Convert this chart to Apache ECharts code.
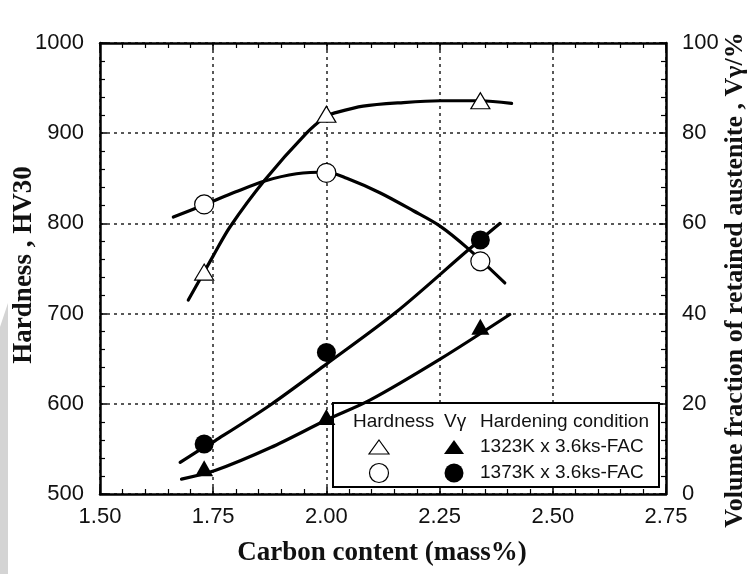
<!DOCTYPE html>
<html><head><meta charset="utf-8">
<script src="https://cdn.jsdelivr.net/npm/echarts@6/dist/echarts.min.js"></script>
<style>html,body{margin:0;padding:0;background:#fff}#c{width:753px;height:574px}</style>
</head><body><div id="c"></div>
<script>
// measured points
const carbon = [1.73, 2.00, 2.34];
const hv1323 = [746, 921, 936];
const hv1373 = [821, 856, 758];
const vg1323 = [5.7, 17.1, 37.1];
const vg1373 = [11.1, 31.4, 56.3];

// fitted curves
const fitHv1323X = [1.695, 1.75, 1.787, 1.864, 1.956, 2.00, 2.015, 2.081, 2.17, 2.251, 2.34, 2.409];
const fitHv1323Y = [715, 764, 796, 848, 900, 919, 922, 930, 934, 936, 936, 933];
const fitHv1373X = [1.662, 1.732, 1.80, 1.864, 1.934, 2.00, 2.045, 2.118, 2.192, 2.251, 2.313, 2.394];
const fitHv1373Y = [807, 821, 835, 847, 855, 857, 850, 834, 814, 797, 772, 734];
const fitVg1373X = [1.677, 1.73, 1.754, 1.877, 2.00, 2.155, 2.313, 2.383];
const fitVg1373Y = [7.0, 10.4, 11.8, 19.8, 28.8, 40.4, 54.1, 60.0];
const fitVg1323X = [1.680, 1.754, 1.877, 2.00, 2.096, 2.251, 2.405];
const fitVg1323Y = [3.3, 5.2, 10.3, 16.4, 20.8, 29.9, 39.8];

// tick labels
const xTickLabels = ['1.50', '1.75', '2.00', '2.25', '2.50', '2.75'];
const hvTickLabels = ['500', '600', '700', '800', '900', '1000'];
const vgTickLabels = ['0', '20', '40', '60', '80', '100'];

// legend texts
const legendHeaders = ['Hardness', 'V\u03b3', 'Hardening condition'];
const conditions = ['1323K x 3.6ks-FAC', '1373K x 3.6ks-FAC'];

const zip = (a, b) => a.map((v, i) => [v, b[i]]);

const axisLineStyle = { show: true, onZero: false, lineStyle: { color: '#000', width: 2.5 } };
const tick = { show: true, inside: true, length: 7, lineStyle: { color: '#000', width: 1.5 } };
const minor = { show: true, splitNumber: 5, length: 5, lineStyle: { color: '#000', width: 1.2 } };
const dashed = { show: true, lineStyle: { type: [3, 4], color: '#222', width: 1.5 } };
const labelFont = { fontSize: 22, color: '#111', fontFamily: '"Liberation Sans", Arial, sans-serif' };

const lineSeries = (xs, ys, yIdx) => ({
  type: 'line', xAxisIndex: 0, yAxisIndex: yIdx, data: zip(xs, ys),
  smooth: 0.3, showSymbol: false, silent: true, z: 3,
  lineStyle: { color: '#000', width: 3.2, cap: 'round', join: 'round' }
});
const pointSeries = (ys, yIdx, symbol, size, filled) => ({
  type: 'scatter', xAxisIndex: 0, yAxisIndex: yIdx, data: zip(carbon, ys),
  symbol: symbol, symbolSize: size, silent: true, z: 5,
  itemStyle: { color: filled ? '#000' : '#fff', borderColor: '#000', borderWidth: filled ? 0 : 1.2, opacity: 1 }
});

const chart = echarts.init(document.getElementById('c'), null, { renderer: 'canvas' });

const serif = '"Liberation Serif", "Times New Roman", serif';
const sans = '"Liberation Sans", Arial, sans-serif';
const legendFont = '19px ' + sans;

chart.setOption({
  animation: false,
  backgroundColor: '#fff',
  grid: { left: 100, right: 87, top: 43, bottom: 80, containLabel: false },
  xAxis: [
    { type: 'value', position: 'bottom', min: 1.5, max: 2.75, interval: 0.25,
      axisLine: axisLineStyle, axisTick: tick, minorTick: minor,
      axisLabel: Object.assign({ margin: 12, formatter: v => xTickLabels[Math.round((v - 1.5) / 0.25)] }, labelFont),
      splitLine: dashed },
    { type: 'value', position: 'top', min: 1.5, max: 2.75, interval: 0.25,
      axisLine: axisLineStyle, axisTick: tick, minorTick: minor,
      axisLabel: { show: false }, splitLine: { show: false } }
  ],
  yAxis: [
    { type: 'value', position: 'left', min: 500, max: 1000, interval: 100,
      axisLine: axisLineStyle, axisTick: tick, minorTick: minor,
      axisLabel: Object.assign({ margin: 16, formatter: v => hvTickLabels[Math.round((v - 500) / 100)] }, labelFont),
      splitLine: dashed },
    { type: 'value', position: 'right', min: 0, max: 100, interval: 20,
      axisLine: axisLineStyle, axisTick: tick, minorTick: minor,
      axisLabel: Object.assign({ margin: 16, formatter: v => vgTickLabels[Math.round(v / 20)] }, labelFont),
      splitLine: { show: false } }
  ],
  series: [
    lineSeries(fitHv1323X, fitHv1323Y, 0),
    lineSeries(fitHv1373X, fitHv1373Y, 0),
    lineSeries(fitVg1373X, fitVg1373Y, 1),
    lineSeries(fitVg1323X, fitVg1323Y, 1),
    pointSeries(hv1323, 0, 'triangle', [19, 16], false),
    pointSeries(hv1373, 0, 'circle', 19, false),
    pointSeries(vg1323, 1, 'triangle', [18, 16], true),
    pointSeries(vg1373, 1, 'circle', 19, true)
  ],
  graphic: [
    { type: 'polygon', z: -10, silent: true, shape: { points: [[0, 327], [8, 303], [8, 574], [0, 574]] }, style: { fill: '#d4d4d4' } },
    // axis titles
    { type: 'text', x: 24, y: 265, rotation: Math.PI / 2, silent: true,
      style: { text: 'Hardness , HV30', font: 'bold 27px ' + serif, fill: '#111', align: 'center', verticalAlign: 'middle' } },
    { type: 'text', x: 382, y: 553, silent: true,
      style: { text: 'Carbon content (mass%)', font: 'bold 27px ' + serif, fill: '#111', align: 'center', verticalAlign: 'middle' } },
    { type: 'text', x: 735, y: 280, rotation: Math.PI / 2, silent: true,
      style: { text: 'Volume fraction of retained austenite , V\u03b3/%', font: 'bold 26px ' + serif, fill: '#111', align: 'center', verticalAlign: 'middle' } },
    // legend box
    { type: 'rect', z: 1, silent: true, shape: { x: 333, y: 403, width: 326, height: 84 }, style: { fill: '#fff', stroke: '#000', lineWidth: 2 } },
    { type: 'text', z: 6, x: 353, y: 422, silent: true, style: { text: legendHeaders[0], font: legendFont, fill: '#111', align: 'left', verticalAlign: 'middle' } },
    { type: 'text', z: 6, x: 444, y: 422, silent: true, style: { text: legendHeaders[1], font: legendFont, fill: '#111', align: 'left', verticalAlign: 'middle' } },
    { type: 'text', z: 6, x: 480, y: 422, silent: true, style: { text: legendHeaders[2], font: legendFont, fill: '#111', align: 'left', verticalAlign: 'middle' } },
    { type: 'text', z: 6, x: 480, y: 447, silent: true, style: { text: conditions[0], font: legendFont, fill: '#111', align: 'left', verticalAlign: 'middle' } },
    { type: 'text', z: 6, x: 480, y: 473, silent: true, style: { text: conditions[1], font: legendFont, fill: '#111', align: 'left', verticalAlign: 'middle' } },
    { type: 'polygon', z: 6, silent: true, shape: { points: [[379, 440], [389, 454], [369, 454]] }, style: { fill: '#fff', stroke: '#000', lineWidth: 1.2 } },
    { type: 'polygon', z: 6, silent: true, shape: { points: [[454, 440], [464, 454], [444, 454]] }, style: { fill: '#000' } },
    { type: 'circle', z: 6, silent: true, shape: { cx: 379, cy: 473, r: 9.5 }, style: { fill: '#fff', stroke: '#000', lineWidth: 1.2 } },
    { type: 'circle', z: 6, silent: true, shape: { cx: 454, cy: 473, r: 9.5 }, style: { fill: '#000' } }
  ]
});
</script>
</body></html>
